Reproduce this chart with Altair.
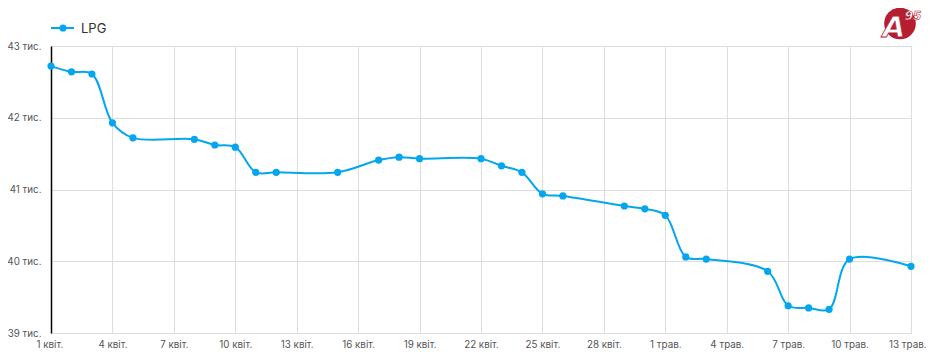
import altair as alt
import pandas as pd

dates = ["2024-04-01", "2024-04-02", "2024-04-03", "2024-04-04", "2024-04-05",
         "2024-04-08", "2024-04-09", "2024-04-10", "2024-04-11", "2024-04-12",
         "2024-04-15", "2024-04-17", "2024-04-18", "2024-04-19", "2024-04-22",
         "2024-04-23", "2024-04-24", "2024-04-25", "2024-04-26", "2024-04-29",
         "2024-04-30", "2024-05-01", "2024-05-02", "2024-05-03", "2024-05-06",
         "2024-05-07", "2024-05-08", "2024-05-09", "2024-05-10", "2024-05-13"]
lpg = [42720, 42640, 42610, 41930, 41720,
       41700, 41620, 41590, 41240, 41240,
       41240, 41410, 41450, 41430, 41430,
       41330, 41240, 40940, 40910, 40770,
       40730, 40640, 40060, 40030, 39860,
       39380, 39350, 39330, 40030, 39930]
series_name = "LPG"
x_tick_dates = ["2024-04-01", "2024-04-04", "2024-04-07", "2024-04-10", "2024-04-13",
                "2024-04-16", "2024-04-19", "2024-04-22", "2024-04-25", "2024-04-28",
                "2024-05-01", "2024-05-04", "2024-05-07", "2024-05-10", "2024-05-13"]
y_ticks = [39000, 39500, 40000, 40500, 41000, 41500, 42000, 42500, 43000]

COLOR = "#05A6EE"
FONT = "Inter"
LOGO_RED = "#B51D31"

df = pd.DataFrame({"date": dates, "value": lpg, "series": series_name})

x_vals = [alt.DateTime(year=int(d[:4]), month=int(d[5:7]), date=int(d[8:]), utc=True)
          for d in x_tick_dates]

x_enc = alt.X(
    "date:T",
    scale=alt.Scale(type="utc",
                    domain=[alt.DateTime(year=2024, month=4, date=1, utc=True),
                            alt.DateTime(year=2024, month=5, date=13, utc=True)]),
    axis=alt.Axis(
        values=x_vals,
        labelExpr="utcdate(datum.value) + ' ' + (utcmonth(datum.value) == 3 ? 'квіт.' : 'трав.')",
        title=None, grid=True, gridColor="#dedede", domain=False, ticks=False,
        labelPadding=6, labelFontSize=9.8, labelColor="#555555", labelFont=FONT,
        labelFlush=True, labelFlushOffset=15, labelOverlap=False,
    ),
)
y_enc = alt.Y(
    "value:Q",
    scale=alt.Scale(domain=[39000, 43000], nice=False, zero=False),
    axis=alt.Axis(
        values=y_ticks,
        labelExpr="datum.value % 1000 == 0 ? (datum.value / 1000) + ' тис.' : ''",
        title=None, grid=True, gridColor="#dedede", domain=True, domainColor="#000000",
        domainWidth=1.5, ticks=False, labelPadding=10, labelFontSize=9.8,
        labelColor="#555555", labelFont=FONT, labelFlush=False, labelOverlap=False,
    ),
)

line = alt.Chart(df).mark_line(interpolate="catmull-rom", color=COLOR, strokeWidth=2).encode(
    x=x_enc, y=y_enc)
pts = alt.Chart(df).mark_point(filled=True, size=52, opacity=1, color=COLOR).encode(
    x="date:T", y="value:Q")

one = pd.DataFrame({"series": [series_name]})
leg_line = alt.Chart(one).mark_rule(color=COLOR, strokeWidth=2).encode(
    x=alt.value(0), x2=alt.value(23), y=alt.value(-18))
leg_pt = alt.Chart(one).mark_point(filled=True, size=52, opacity=1, color=COLOR).encode(
    x=alt.value(12), y=alt.value(-18))
leg_txt = alt.Chart(one).mark_text(align="left", baseline="middle", fontSize=13,
                                   font=FONT, color="#333333").encode(
    x=alt.value(30), y=alt.value(-17), text="series:N")

logo_circle = alt.Chart(one).mark_point(filled=True, size=1000, opacity=1, color=LOGO_RED).encode(
    x=alt.value(849), y=alt.value(-22.5))
logo_a = alt.Chart(one).mark_text(text="A", align="center", baseline="middle", fontSize=29,
                                  fontWeight="bold", fontStyle="italic", font="DejaVu Sans",
                                  color="white", stroke=LOGO_RED, strokeWidth=0.8).encode(
    x=alt.value(843), y=alt.value(-18))
logo_95 = alt.Chart(one).mark_text(text="95", align="center", baseline="middle", fontSize=12,
                                   fontWeight="bold", fontStyle="italic", font="DejaVu Sans",
                                   color="white", stroke=LOGO_RED, strokeWidth=0.6).encode(
    x=alt.value(862), y=alt.value(-30))

chart = alt.layer(line, pts, leg_line, leg_pt, leg_txt, logo_circle, logo_a, logo_95).properties(
    width=860, height=287,
    autosize=alt.AutoSizeParams(type="none"),
    padding={"left": 43, "top": 38, "right": 17, "bottom": 18},
).configure_view(stroke=None).configure(background="white")

chart.save("out.html", embed_options={"renderer": "svg", "actions": False})
